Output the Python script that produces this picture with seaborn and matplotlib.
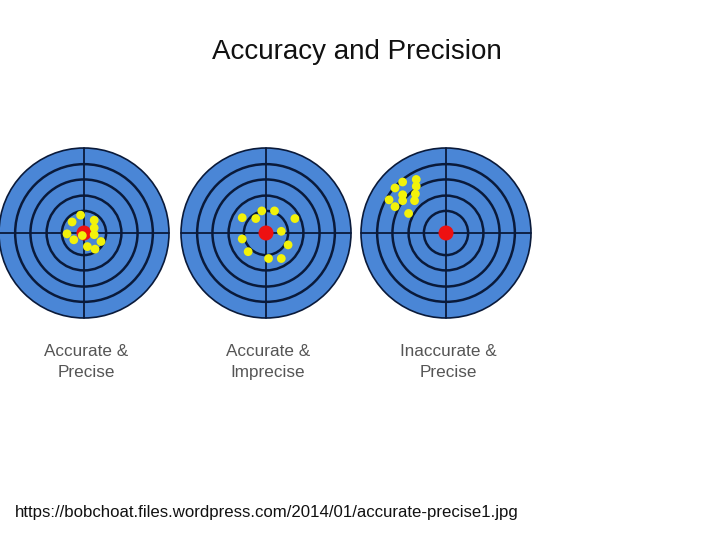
import matplotlib
matplotlib.use("Agg")
import matplotlib.pyplot as plt
import seaborn as sns
import pandas as pd
from matplotlib.patches import Circle

sns.set_theme(style="white")
plt.rcParams['font.family'] = ['Liberation Sans', 'DejaVu Sans']

labels = ["Accurate &\nPrecise", "Accurate &\nImprecise", "Inaccurate &\nPrecise"]
centers_x = [84, 266, 446]
center_y = 233
radius = 85
ring_fracs = [1.0, 0.81, 0.63, 0.44, 0.26]

shots = {
    0: [(-0.14,0.13),(-0.04,0.21),(0.12,0.15),(0.12,0.06),(0.12,-0.02),(-0.2,-0.01),
        (-0.12,-0.08),(-0.02,-0.03),(0.04,-0.16),(0.13,-0.19),(0.2,-0.1)],
    1: [(-0.28,0.18),(-0.12,0.17),(-0.05,0.26),(0.1,0.26),(0.34,0.17),(0.18,0.02),
        (-0.28,-0.07),(0.26,-0.14),(-0.21,-0.22),(0.03,-0.3),(0.18,-0.3)],
    2: [(-0.51,0.6),(-0.35,0.63),(-0.6,0.53),(-0.35,0.55),(-0.51,0.45),(-0.36,0.46),
        (-0.67,0.39),(-0.51,0.38),(-0.37,0.38),(-0.6,0.31),(-0.44,0.23)],
}

fig = plt.figure(figsize=(7.2, 5.4), dpi=100)
ax = fig.add_axes([0, 0, 1, 1])
ax.set_xlim(0, 720)
ax.set_ylim(540, 0)
ax.set_aspect('equal')
ax.axis('off')

rows = []
for i, cx in enumerate(centers_x):
    for k, f in enumerate(ring_fracs):
        ax.add_patch(Circle((cx, center_y), radius * f, facecolor='#4A86D6' if k == 0 else 'none',
                            edgecolor='#0a1a3a', lw=1.8 if k else 1.2, zorder=1))
    ax.plot([cx - radius, cx + radius], [center_y, center_y], color='#0a1a3a', lw=1.3, zorder=2)
    ax.plot([cx, cx], [center_y - radius, center_y + radius], color='#0a1a3a', lw=1.3, zorder=2)
    ax.add_patch(Circle((cx, center_y), 7.5, facecolor='#EE1111', edgecolor='none', zorder=3))
    for dx, dy in shots[i]:
        rows.append({'x': cx + dx * radius, 'y': center_y - dy * radius})
    ax.text(cx + 2, 362, labels[i], ha='center', va='center', fontsize=12.3,
            color='#555555', linespacing=1.45)

df = pd.DataFrame(rows)
sns.scatterplot(data=df, x='x', y='y', ax=ax, color='#F2F20A', s=40, edgecolor='none', zorder=4)
ax.set_xlabel(''); ax.set_ylabel('')

fig.text(357 / 720, 1 - 52 / 540, "Accuracy and Precision", ha='center', va='center',
         fontsize=20, color='#111111')
fig.text(15 / 720, 1 - 512 / 540, "https://bobchoat.files.wordpress.com/2014/01/accurate-precise1.jpg",
         ha='left', va='center', fontsize=12.1, color='#111111')

fig.savefig("out.png", dpi=100)
